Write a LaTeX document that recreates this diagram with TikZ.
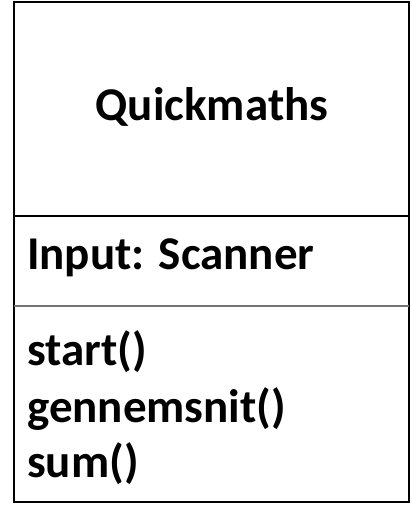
\documentclass[tikz,border=0pt]{standalone}
\usepackage{fontspec}
\setmainfont{Carlito}
\usetikzlibrary{positioning}

\begin{document}
\begin{tikzpicture}[x=1pt,y=-1pt,
  txt/.style={font=\fontsize{47}{56}\selectfont\bfseries,inner sep=0pt,anchor=west},
  sep/.style={line width=1.5pt}
]
\useasboundingbox (0,0) rectangle (411,512);

% ---- Class box ----------------------------------------------
\draw[line width=2pt] (14,2) rectangle (409,502);
\draw[sep] (14,216) -- (409,216);
\draw[sep,black!55] (14,306) -- (409,306);

% ---- Name ---------------------------------------------------
\node[txt,anchor=center] (name) at (212,107) {Quickmaths};

% ---- Attributes ---------------------------------------------
\node[txt] (attr) at (27,258) {Input: Scanner};

% ---- Methods ------------------------------------------------
\node[txt] (m1) at (27,352) {start()};
\node[txt] (m2) at (27,409) {gennemsnit()};
\node[txt] (m3) at (27,464) {sum()};

\end{tikzpicture}
\end{document}
